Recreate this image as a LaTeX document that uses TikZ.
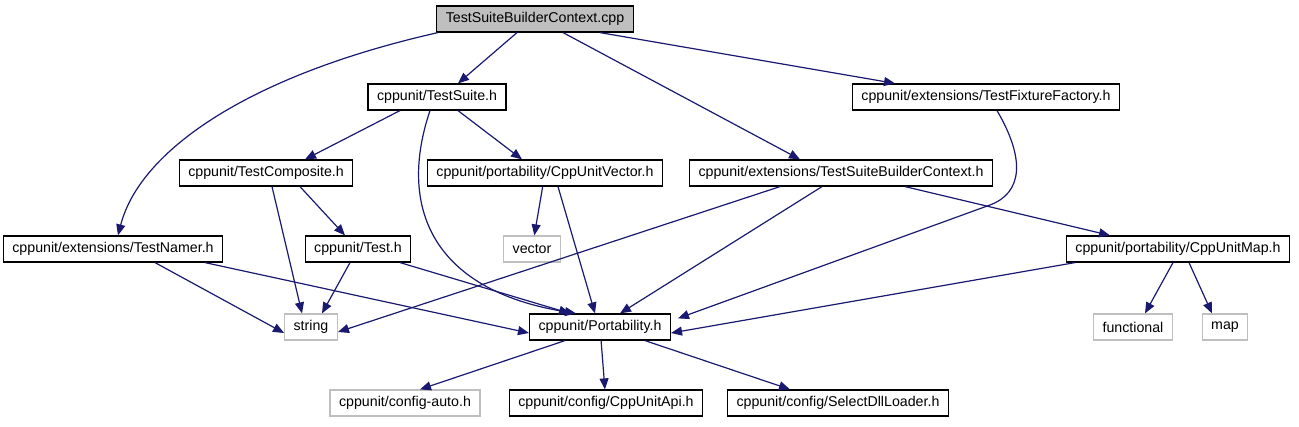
\documentclass[tikz,border=0pt]{standalone}
\usepackage{fontspec}
\setmainfont{Liberation Sans}
\usetikzlibrary{arrows.meta}
\definecolor{edgeblue}{HTML}{191970}
\definecolor{rootgray}{HTML}{BFBFBF}
\definecolor{sysgray}{HTML}{BFBFBF}

\begin{document}
\begin{tikzpicture}[x=1pt, y=-1pt,
	file/.style={draw=black, line width=1.2pt, fill=white, minimum height=26pt, inner xsep=9pt, font=\fontsize{14.2}{16}\selectfont},
	sys/.style={file, draw=sysgray},
	root/.style={file, fill=rootgray},
	dep/.style={draw=edgeblue, line width=1.2pt, -{Triangle[length=11pt, width=9pt]}}]
	\useasboundingbox (0, 0) rectangle (1299, 427);
	% top row
	\node [root] (cpp) at (535, 19) {TestSuiteBuilderContext.cpp};
	\node [file] (suite) at (437, 97) {cppunit/TestSuite.h};
	\node [file] (fixture) at (986, 97) {cppunit/extensions/TestFixtureFactory.h};
	% middle rows
	\node [file] (composite) at (266, 173) {cppunit/TestComposite.h};
	\node [file] (vector) at (545, 173) {cppunit/portability/CppUnitVector.h};
	\node [file] (context) at (841, 173) {cppunit/extensions/TestSuiteBuilderContext.h};
	\node [file] (namer) at (113, 249) {cppunit/extensions/TestNamer.h};
	\node [file] (test) at (358, 249) {cppunit/Test.h};
	\node [sys] (stdvector) at (532, 249) {vector};
	\node [file] (map) at (1178, 249) {cppunit/portability/CppUnitMap.h};
	\node [sys] (string) at (311, 327) {string};
	\node [file] (port) at (600, 327) {cppunit/Portability.h};
	\node [sys] (functional) at (1133, 327) {functional};
	\node [sys] (stdmap) at (1225, 327) {map};
	% bottom row
	\node [sys] (auto) at (405, 403) {cppunit/config-auto.h};
	\node [file] (api) at (606, 403) {cppunit/config/CppUnitApi.h};
	\node [file] (dll) at (838, 403) {cppunit/config/SelectDllLoader.h};

	\draw [dep] ([xshift=-18pt]cpp.south) -- ([xshift=21pt]suite.north);
	\draw [dep] ([xshift=65pt]cpp.south) -- ([xshift=-91pt]fixture.north);
	\draw [dep] ([xshift=28pt]cpp.south) -- ([xshift=-41pt]context.north);
	\draw [dep] ([xshift=-97pt]cpp.south) .. controls (250, 75) and (140, 150) .. ([xshift=5pt]namer.north);
	\draw [dep] ([xshift=-37pt]suite.south) -- ([xshift=39pt]composite.north);
	\draw [dep] ([xshift=21pt]suite.south) -- ([xshift=-23pt]vector.north);
	\draw [dep] ([xshift=-7pt]suite.south) .. controls (398, 205) and (430, 290) .. ([xshift=-24pt]port.north);
	\draw [dep] ([xshift=11pt]fixture.south) .. controls (1026, 160) and (1022, 193) .. (990, 205) -- ([xshift=78pt, yshift=-5pt]port.north);
	\draw [dep] ([xshift=34pt]composite.south) -- ([xshift=-13pt]test.north);
	\draw [dep] ([xshift=6pt]composite.south) -- ([xshift=-9pt]string.north);
	\draw [dep] (vector) -- (stdvector);
	\draw [dep] ([xshift=13pt]vector.south) -- ([xshift=-5pt]port.north);
	\draw [dep] ([xshift=-61pt]context.south) -- ([yshift=-5pt]string.east);
	\draw [dep] ([xshift=-19pt]context.south) -- ([xshift=20pt]port.north);
	\draw [dep] ([xshift=64pt]context.south) -- ([xshift=-68pt]map.north);
	\draw [dep] ([xshift=42pt]namer.south) -- ([yshift=-6pt]string.west);
	\draw [dep] ([xshift=92pt]namer.south) -- ([yshift=-6pt]port.west);
	\draw [dep] ([xshift=-8pt]test.south) -- ([xshift=11pt]string.north);
	\draw [dep] ([xshift=42pt]test.south) -- ([xshift=-30pt]port.north);
	\draw [dep] ([xshift=-103pt]map.south) -- ([yshift=-6pt]port.east);
	\draw [dep] ([xshift=-5pt]map.south) -- ([xshift=12pt]functional.north);
	\draw [dep] ([xshift=11pt]map.south) -- ([xshift=-13pt]stdmap.north);
	\draw [dep] ([xshift=-35pt]port.south) -- ([xshift=15pt]auto.north);
	\draw [dep] (port) -- (api);
	\draw [dep] ([xshift=45pt]port.south) -- ([xshift=-48pt]dll.north);
\end{tikzpicture}
\end{document}
